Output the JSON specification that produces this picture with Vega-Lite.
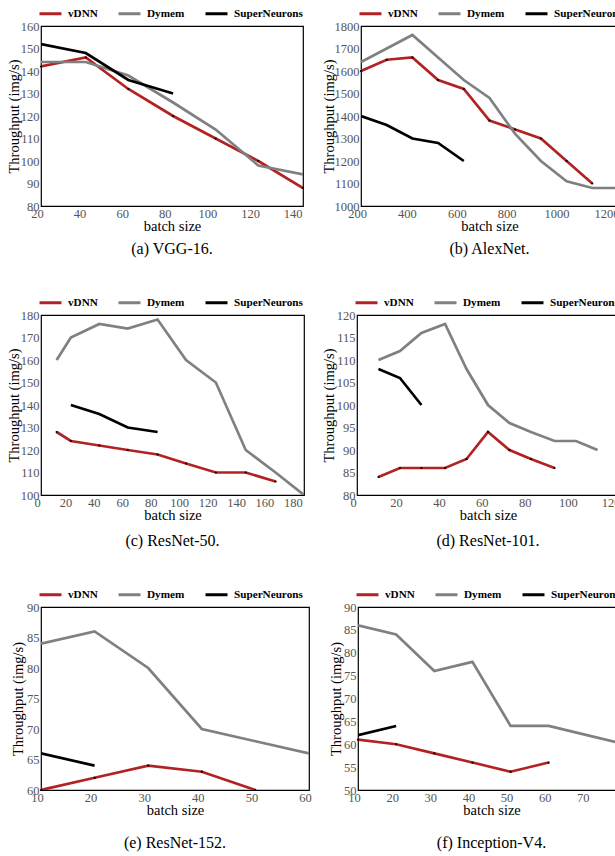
{
  "$schema": "https://vega.github.io/schema/vega-lite/v6.json",
  "padding": {"left": 5, "top": 0, "right": 0, "bottom": 0},
  "background": "white",
  "datasets": {
    "vgg": [
      {"s": "vDNN", "x": 20, "y": 142}, {"s": "vDNN", "x": 41, "y": 146}, {"s": "vDNN", "x": 61, "y": 132}, {"s": "vDNN", "x": 82, "y": 120}, {"s": "vDNN", "x": 102, "y": 110}, {"s": "vDNN", "x": 122, "y": 100}, {"s": "vDNN", "x": 143, "y": 88},
      {"s": "Dymem", "x": 20, "y": 144}, {"s": "Dymem", "x": 41, "y": 144}, {"s": "Dymem", "x": 61, "y": 138}, {"s": "Dymem", "x": 82, "y": 126}, {"s": "Dymem", "x": 102, "y": 114}, {"s": "Dymem", "x": 122, "y": 98}, {"s": "Dymem", "x": 143, "y": 94},
      {"s": "SuperNeurons", "x": 20, "y": 152}, {"s": "SuperNeurons", "x": 41, "y": 148}, {"s": "SuperNeurons", "x": 61, "y": 136}, {"s": "SuperNeurons", "x": 82, "y": 130}
    ],
    "alex": [
      {"s": "vDNN", "x": 200, "y": 1600}, {"s": "vDNN", "x": 303, "y": 1650}, {"s": "vDNN", "x": 406, "y": 1660}, {"s": "vDNN", "x": 509, "y": 1560}, {"s": "vDNN", "x": 612, "y": 1520}, {"s": "vDNN", "x": 715, "y": 1380}, {"s": "vDNN", "x": 818, "y": 1340}, {"s": "vDNN", "x": 921, "y": 1300}, {"s": "vDNN", "x": 1024, "y": 1200}, {"s": "vDNN", "x": 1127, "y": 1100},
      {"s": "Dymem", "x": 200, "y": 1640}, {"s": "Dymem", "x": 303, "y": 1700}, {"s": "Dymem", "x": 406, "y": 1760}, {"s": "Dymem", "x": 509, "y": 1660}, {"s": "Dymem", "x": 612, "y": 1560}, {"s": "Dymem", "x": 715, "y": 1480}, {"s": "Dymem", "x": 818, "y": 1320}, {"s": "Dymem", "x": 921, "y": 1200}, {"s": "Dymem", "x": 1024, "y": 1110}, {"s": "Dymem", "x": 1127, "y": 1080}, {"s": "Dymem", "x": 1230, "y": 1080},
      {"s": "SuperNeurons", "x": 200, "y": 1400}, {"s": "SuperNeurons", "x": 303, "y": 1360}, {"s": "SuperNeurons", "x": 406, "y": 1300}, {"s": "SuperNeurons", "x": 509, "y": 1280}, {"s": "SuperNeurons", "x": 612, "y": 1200}
    ],
    "r50": [
      {"s": "vDNN", "x": 11, "y": 128}, {"s": "vDNN", "x": 21, "y": 124}, {"s": "vDNN", "x": 41, "y": 122}, {"s": "vDNN", "x": 61, "y": 120}, {"s": "vDNN", "x": 82, "y": 118}, {"s": "vDNN", "x": 102, "y": 114}, {"s": "vDNN", "x": 123, "y": 110}, {"s": "vDNN", "x": 144, "y": 110}, {"s": "vDNN", "x": 165, "y": 106},
      {"s": "Dymem", "x": 11, "y": 160}, {"s": "Dymem", "x": 21, "y": 170}, {"s": "Dymem", "x": 41, "y": 176}, {"s": "Dymem", "x": 61, "y": 174}, {"s": "Dymem", "x": 82, "y": 178}, {"s": "Dymem", "x": 102, "y": 160}, {"s": "Dymem", "x": 123, "y": 150}, {"s": "Dymem", "x": 144, "y": 120}, {"s": "Dymem", "x": 165, "y": 110}, {"s": "Dymem", "x": 185, "y": 100},
      {"s": "SuperNeurons", "x": 21, "y": 140}, {"s": "SuperNeurons", "x": 41, "y": 136}, {"s": "SuperNeurons", "x": 61, "y": 130}, {"s": "SuperNeurons", "x": 82, "y": 128}
    ],
    "r101": [
      {"s": "vDNN", "x": 10, "y": 84}, {"s": "vDNN", "x": 20, "y": 86}, {"s": "vDNN", "x": 30, "y": 86}, {"s": "vDNN", "x": 41, "y": 86}, {"s": "vDNN", "x": 51, "y": 88}, {"s": "vDNN", "x": 61, "y": 94}, {"s": "vDNN", "x": 71, "y": 90}, {"s": "vDNN", "x": 81, "y": 88}, {"s": "vDNN", "x": 92, "y": 86},
      {"s": "Dymem", "x": 10, "y": 110}, {"s": "Dymem", "x": 20, "y": 112}, {"s": "Dymem", "x": 30, "y": 116}, {"s": "Dymem", "x": 41, "y": 118}, {"s": "Dymem", "x": 51, "y": 108}, {"s": "Dymem", "x": 61, "y": 100}, {"s": "Dymem", "x": 71, "y": 96}, {"s": "Dymem", "x": 81, "y": 94}, {"s": "Dymem", "x": 92, "y": 92}, {"s": "Dymem", "x": 102, "y": 92}, {"s": "Dymem", "x": 112, "y": 90},
      {"s": "SuperNeurons", "x": 10, "y": 108}, {"s": "SuperNeurons", "x": 20, "y": 106}, {"s": "SuperNeurons", "x": 30, "y": 100}
    ],
    "r152": [
      {"s": "vDNN", "x": 10, "y": 60}, {"s": "vDNN", "x": 20, "y": 62}, {"s": "vDNN", "x": 30, "y": 64}, {"s": "vDNN", "x": 40, "y": 63}, {"s": "vDNN", "x": 50, "y": 60},
      {"s": "Dymem", "x": 10, "y": 84}, {"s": "Dymem", "x": 20, "y": 86}, {"s": "Dymem", "x": 30, "y": 80}, {"s": "Dymem", "x": 40, "y": 70}, {"s": "Dymem", "x": 50, "y": 68}, {"s": "Dymem", "x": 60, "y": 66},
      {"s": "SuperNeurons", "x": 10, "y": 66}, {"s": "SuperNeurons", "x": 20, "y": 64}
    ],
    "inc": [
      {"s": "vDNN", "x": 10, "y": 61}, {"s": "vDNN", "x": 20, "y": 60}, {"s": "vDNN", "x": 30, "y": 58}, {"s": "vDNN", "x": 40, "y": 56}, {"s": "vDNN", "x": 50, "y": 54}, {"s": "vDNN", "x": 60, "y": 56},
      {"s": "Dymem", "x": 10, "y": 86}, {"s": "Dymem", "x": 20, "y": 84}, {"s": "Dymem", "x": 30, "y": 76}, {"s": "Dymem", "x": 40, "y": 78}, {"s": "Dymem", "x": 50, "y": 64}, {"s": "Dymem", "x": 60, "y": 64}, {"s": "Dymem", "x": 70, "y": 62}, {"s": "Dymem", "x": 80, "y": 60},
      {"s": "SuperNeurons", "x": 10, "y": 62}, {"s": "SuperNeurons", "x": 20, "y": 64}
    ]
  },
  "resolve": {"scale": {"x": "independent", "y": "independent", "color": "independent"}, "legend": {"color": "independent"}},
  "spacing": 31,
  "vconcat": [
    {
      "resolve": {"scale": {"x": "independent", "y": "independent", "color": "independent"}, "legend": {"color": "independent"}},
      "spacing": 15,
      "hconcat": [
        {
          "data": {"name": "vgg"},
          "width": 262, "height": 180,
          "title": {"text": "(a) VGG-16."},
          "encoding": {
            "x": {"field": "x", "type": "quantitative", "scale": {"domain": [20, 143], "nice": false, "zero": false}, "axis": {"values": [20, 40, 60, 80, 100, 120, 140], "title": "batch size"}},
            "y": {"field": "y", "type": "quantitative", "scale": {"domain": [80, 160], "nice": false, "zero": false}, "axis": {"values": [80, 90, 100, 110, 120, 130, 140, 150, 160], "format": "d", "title": "Throughput (img/s)", "minExtent": 19, "maxExtent": 19}}
          },
          "layer": [
            {"mark": {"type": "line", "strokeWidth": 2.7, "clip": true}, "encoding": {"color": {"field": "s", "type": "nominal", "scale": {"domain": ["vDNN", "Dymem", "SuperNeurons"], "range": ["#b22222", "#808080", "#000000"]}, "legend": {"orient": "none", "legendX": -3, "legendY": -25, "direction": "horizontal", "title": null}}}},
            {"transform": [{"filter": "datum.s === 'vDNN'"}], "mark": {"type": "point", "filled": true, "size": 5, "color": "#000", "opacity": 1}}
          ]
        },
        {
          "data": {"name": "alex"},
          "width": 257, "height": 180,
          "title": {"text": "(b) AlexNet."},
          "encoding": {
            "x": {"field": "x", "type": "quantitative", "scale": {"domain": [200, 1230], "nice": false, "zero": false}, "axis": {"values": [200, 400, 600, 800, 1000, 1200], "format": "d", "title": "batch size"}},
            "y": {"field": "y", "type": "quantitative", "scale": {"domain": [1000, 1800], "nice": false, "zero": false}, "axis": {"values": [1000, 1100, 1200, 1300, 1400, 1500, 1600, 1700, 1800], "format": "d", "title": "Throughput (img/s)", "minExtent": 24, "maxExtent": 24}}
          },
          "layer": [
            {"mark": {"type": "line", "strokeWidth": 2.7, "clip": true}, "encoding": {"color": {"field": "s", "type": "nominal", "scale": {"domain": ["vDNN", "Dymem", "SuperNeurons"], "range": ["#b22222", "#808080", "#000000"]}, "legend": {"orient": "none", "legendX": -3, "legendY": -25, "direction": "horizontal", "title": null}}}},
            {"transform": [{"filter": "datum.s === 'vDNN'"}], "mark": {"type": "point", "filled": true, "size": 5, "color": "#000", "opacity": 1}}
          ]
        }
      ]
    },
    {
      "resolve": {"scale": {"x": "independent", "y": "independent", "color": "independent"}, "legend": {"color": "independent"}},
      "spacing": 15,
      "hconcat": [
        {
          "data": {"name": "r50"},
          "width": 263, "height": 180,
          "title": {"text": "(c) ResNet-50.", "offset": 11},
          "encoding": {
            "x": {"field": "x", "type": "quantitative", "scale": {"domain": [0, 185], "nice": false, "zero": false}, "axis": {"values": [0, 20, 40, 60, 80, 100, 120, 140, 160, 180], "title": "batch size"}},
            "y": {"field": "y", "type": "quantitative", "scale": {"domain": [100, 180], "nice": false, "zero": false}, "axis": {"values": [100, 110, 120, 130, 140, 150, 160, 170, 180], "format": "d", "title": "Throughput (img/s)", "minExtent": 19, "maxExtent": 19}}
          },
          "layer": [
            {"mark": {"type": "line", "strokeWidth": 2.7, "clip": true}, "encoding": {"color": {"field": "s", "type": "nominal", "scale": {"domain": ["vDNN", "Dymem", "SuperNeurons"], "range": ["#b22222", "#808080", "#000000"]}, "legend": {"orient": "none", "legendX": -3, "legendY": -25, "direction": "horizontal", "title": null}}}},
            {"transform": [{"filter": "datum.s === 'vDNN'"}], "mark": {"type": "point", "filled": true, "size": 5, "color": "#000", "opacity": 1}}
          ]
        },
        {
          "data": {"name": "r101"},
          "width": 262, "height": 180,
          "title": {"text": "(d) ResNet-101.", "offset": 11},
          "encoding": {
            "x": {"field": "x", "type": "quantitative", "scale": {"domain": [0, 122], "nice": false, "zero": false}, "axis": {"values": [0, 20, 40, 60, 80, 100, 120], "title": "batch size"}},
            "y": {"field": "y", "type": "quantitative", "scale": {"domain": [80, 120], "nice": false, "zero": false}, "axis": {"values": [80, 85, 90, 95, 100, 105, 110, 115, 120], "format": "d", "title": "Throughput (img/s)", "minExtent": 20, "maxExtent": 20}}
          },
          "layer": [
            {"mark": {"type": "line", "strokeWidth": 2.7, "clip": true}, "encoding": {"color": {"field": "s", "type": "nominal", "scale": {"domain": ["vDNN", "Dymem", "SuperNeurons"], "range": ["#b22222", "#808080", "#000000"]}, "legend": {"orient": "none", "legendX": -3, "legendY": -25, "direction": "horizontal", "title": null}}}},
            {"transform": [{"filter": "datum.s === 'vDNN'"}], "mark": {"type": "point", "filled": true, "size": 5, "color": "#000", "opacity": 1}}
          ]
        }
      ]
    },
    {
      "resolve": {"scale": {"x": "independent", "y": "independent", "color": "independent"}, "legend": {"color": "independent"}},
      "spacing": 15,
      "hconcat": [
        {
          "data": {"name": "r152"},
          "width": 268, "height": 183,
          "title": {"text": "(e) ResNet-152.", "offset": 18},
          "encoding": {
            "x": {"field": "x", "type": "quantitative", "scale": {"domain": [10, 60], "nice": false, "zero": false}, "axis": {"values": [10, 20, 30, 40, 50, 60], "title": "batch size"}},
            "y": {"field": "y", "type": "quantitative", "scale": {"domain": [60, 90], "nice": false, "zero": false}, "axis": {"values": [60, 65, 70, 75, 80, 85, 90], "format": "d", "title": "Throughput (img/s)", "minExtent": 15, "maxExtent": 15}}
          },
          "layer": [
            {"mark": {"type": "line", "strokeWidth": 2.7, "clip": true}, "encoding": {"color": {"field": "s", "type": "nominal", "scale": {"domain": ["vDNN", "Dymem", "SuperNeurons"], "range": ["#b22222", "#808080", "#000000"]}, "legend": {"orient": "none", "legendX": -3, "legendY": -25, "direction": "horizontal", "title": null}}}},
            {"transform": [{"filter": "datum.s === 'vDNN'"}], "mark": {"type": "point", "filled": true, "size": 5, "color": "#000", "opacity": 1}}
          ]
        },
        {
          "data": {"name": "inc"},
          "width": 267, "height": 183,
          "title": {"text": "(f) Inception-V4.", "offset": 18},
          "encoding": {
            "x": {"field": "x", "type": "quantitative", "scale": {"domain": [10, 80], "nice": false, "zero": false}, "axis": {"values": [10, 20, 30, 40, 50, 60, 70, 80], "title": "batch size"}},
            "y": {"field": "y", "type": "quantitative", "scale": {"domain": [50, 90], "nice": false, "zero": false}, "axis": {"values": [50, 55, 60, 65, 70, 75, 80, 85, 90], "format": "d", "title": "Throughput (img/s)", "minExtent": 14, "maxExtent": 14}}
          },
          "layer": [
            {"mark": {"type": "line", "strokeWidth": 2.7, "clip": true}, "encoding": {"color": {"field": "s", "type": "nominal", "scale": {"domain": ["vDNN", "Dymem", "SuperNeurons"], "range": ["#b22222", "#808080", "#000000"]}, "legend": {"orient": "none", "legendX": -3, "legendY": -25, "direction": "horizontal", "title": null}}}},
            {"transform": [{"filter": "datum.s === 'vDNN'"}], "mark": {"type": "point", "filled": true, "size": 5, "color": "#000", "opacity": 1}}
          ]
        }
      ]
    }
  ],
  "config": {
    "view": {"stroke": "#000", "strokeWidth": 1.2},
    "axis": {"labelFont": "Liberation Serif", "labelFontSize": 12.5, "labelColor": "#555", "titleFont": "Liberation Serif", "titleFontSize": 14.5, "titleFontWeight": "normal", "titleColor": "#000", "grid": false, "domain": false, "ticks": false},
    "axisX": {"labelPadding": 1, "titlePadding": 0, "labelOffset": -4, "labelFlush": false},
    "axisY": {"labelPadding": 2, "titlePadding": 1, "labelFlush": false},
    "legend": {"labelFont": "Liberation Serif", "labelFontWeight": "bold", "labelFontSize": 11.2, "labelColor": "#000", "symbolType": "stroke", "symbolStrokeWidth": 3, "symbolSize": 484, "labelOffset": 5, "columnPadding": 14, "padding": 0},
    "title": {"font": "Liberation Serif", "fontSize": 16, "fontWeight": "normal", "color": "#000", "orient": "bottom", "offset": 8, "anchor": "middle"}
  }
}
